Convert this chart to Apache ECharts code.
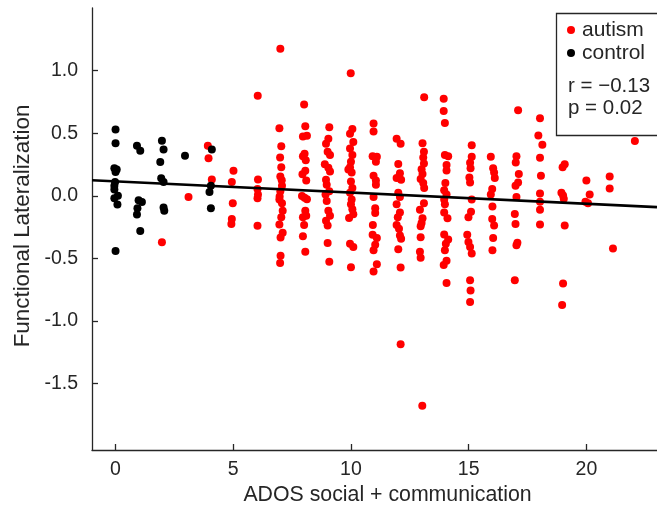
<!DOCTYPE html>
<html>
<head>
<meta charset="utf-8">
<script src="https://cdn.jsdelivr.net/npm/echarts@6/dist/echarts.min.js"></script>
<style>
  html, body { margin: 0; padding: 0; background: #fff; }
  #chart { width: 657px; height: 511px; }
</style>
</head>
<body>
<div id="chart"></div>
<script>
// ADOS social + communication score vs. functional lateralization
const autism = [
  [1.97,-0.37],[3.1,-0.01],
  [3.92,0.40],[3.95,0.30],[4.09,0.13],
  [5.01,0.20],[4.94,0.11],[4.98,-0.06],[4.94,-0.185],[4.92,-0.225],
  [6.04,0.80],[6.05,0.13],[6.03,0.055],[6.05,0.01],[6.03,-0.02],[6.03,-0.24],
  [7.0,1.175],[6.96,0.54],[7.04,0.395],[6.99,0.306],[7.04,0.228],[7.0,0.155],[7.06,0.125],[7.07,0.081],[7.0,0.037],[6.97,-0.005],[6.96,-0.029],[7.07,-0.06],[7.1,-0.12],[7.04,-0.172],[6.96,-0.23],[7.1,-0.295],[7.01,-0.332],[7.01,-0.478],[6.99,-0.536],
  [8.01,0.73],[8.06,0.555],[7.96,0.474],[8.13,0.48],[8.03,0.336],[7.96,0.316],[8.08,0.285],[8.06,0.2],[7.94,0.173],[8.1,0.123],[7.92,-0.002],[8.03,-0.015],[8.13,-0.028],[8.06,-0.12],[8.1,-0.16],[7.96,-0.172],[8.01,-0.233],[7.96,-0.322],[8.06,-0.447],
  [9.08,0.547],[9.04,0.456],[8.94,0.416],[9.01,0.351],[9.11,0.325],[8.89,0.252],[9.04,0.225],[9.11,0.194],[8.94,0.128],[8.97,0.089],[9.08,0.037],[8.92,0.011],[8.97,-0.042],[9.04,-0.12],[9.11,-0.16],[8.94,-0.2],[9.01,-0.238],[9.01,-0.377],[9.08,-0.526],
  [9.99,0.979],[10.06,0.534],[9.96,0.495],[10.1,0.429],[9.96,0.377],[10.06,0.325],[10.0,0.272],[9.96,0.228],[10.03,0.186],[9.89,0.21],[10.0,0.115],[10.06,0.063],[9.96,0.024],[10.03,-0.029],[10.0,-0.068],[10.06,-0.107],[10.1,-0.147],[9.92,-0.178],[9.96,-0.382],[10.1,-0.408],[10.0,-0.57],
  [10.96,0.578],[10.96,0.513],[10.92,0.317],[11.1,0.312],[11.06,0.272],[10.96,0.16],[11.06,0.123],[11.06,0.089],[10.96,-0.01],[11.03,-0.099],[11.03,-0.138],[10.93,-0.233],[10.92,-0.311],[11.1,-0.337],[11.03,-0.39],[10.96,-0.434],[11.1,-0.547],[10.96,-0.604],
  [11.94,0.456],[12.11,0.416],[12.01,0.254],[12.08,0.181],[11.94,0.142],[12.13,0.128],[12.01,0.024],[12.08,-0.01],[11.94,-0.068],[12.08,-0.134],[11.99,-0.172],[11.94,-0.233],[12.04,-0.264],[12.08,-0.317],[12.13,-0.343],[12.01,-0.426],[12.11,-0.573],[12.11,-1.185],
  [13.11,0.788],[13.04,0.42],[13.1,0.351],[13.07,0.306],[13.1,0.259],[13.0,0.212],[13.04,0.175],[12.96,0.134],[13.07,0.102],[13.11,0.063],[13.1,-0.06],[12.93,-0.112],[13.04,-0.18],[13.0,-0.217],[12.96,-0.243],[12.96,-0.33],[12.93,-0.447],[12.96,-0.494],[13.03,-1.677],
  [13.94,0.775],[13.94,0.678],[13.99,0.581],[13.99,0.325],[14.13,0.317],[14.06,0.246],[14.06,0.202],[14.01,0.102],[13.96,0.045],[14.06,0.011],[13.96,-0.029],[13.99,-0.068],[13.96,-0.134],[14.1,-0.18],[13.96,-0.309],[14.13,-0.348],[14.03,-0.382],[13.99,-0.434],[14.06,-0.518],[13.94,-0.552],[14.06,-0.696],
  [15.13,0.403],[15.13,0.312],[15.06,0.265],[15.08,0.22],[15.03,0.147],[15.06,0.107],[15.13,-0.029],[15.1,-0.128],[14.99,-0.172],[14.94,-0.311],[14.99,-0.369],[15.06,-0.408],[15.13,-0.461],[15.06,-0.675],[15.08,-0.756],[15.06,-0.848],
  [15.94,0.312],[16.04,0.22],[16.08,0.186],[16.11,0.142],[16.0,0.055],[15.94,0.011],[16.01,-0.086],[16.0,-0.186],[16.08,-0.238],[16.04,-0.337],[16.01,-0.434],
  [17.1,0.683],[17.03,0.317],[17.0,0.267],[17.13,0.175],[17.1,0.107],[16.99,0.081],[17.03,-0.01],[16.96,-0.146],[16.99,-0.225],[17.07,-0.374],[17.03,-0.395],[16.96,-0.675],
  [18.03,0.62],[17.96,0.482],[18.13,0.408],[18.03,0.304],[18.07,0.16],[18.03,0.019],[18.03,-0.047],[18.03,-0.112],[18.03,-0.23],
  [19.08,0.252],[18.99,0.228],[18.94,0.024],[19.01,0.003],[19.04,-0.023],[19.08,-0.238],[19.01,-0.701],[18.97,-0.871],
  [20.0,0.123],[20.14,0.011],[19.96,-0.047],[20.07,-0.06],
  [20.99,0.155],[20.99,0.058],[21.13,-0.421],
  [22.06,0.437]
];

const control = [
  [0.0,0.53],[0.0,0.42],[-0.05,0.22],[0.05,0.21],[0.0,0.19],[-0.02,0.11],[-0.05,0.08],[-0.05,0.05],[0.1,0.0],[-0.05,-0.02],[0.08,-0.07],[0.0,-0.44],
  [0.91,0.40],[1.05,0.36],[0.98,-0.035],[1.12,-0.05],[0.93,-0.10],[0.91,-0.15],[1.05,-0.28],
  [1.97,0.44],[2.04,0.37],[1.9,0.27],[1.94,0.14],[2.04,0.11],[2.04,-0.094],[2.07,-0.12],
  [2.95,0.32],
  [4.09,0.37],[4.05,0.08],[3.99,0.03],[4.05,-0.10]
];

// least-squares fit line end points
const fitLine = [[-1, 0.124], [23, -0.090]];

const xTicks = [0, 5, 10, 15, 20];
const yTicks = [-1.5, -1, -0.5, 0, 0.5, 1];
const statsText = ['r = \u22120.13', 'p = 0.02'];

const ink = '#262626';
const font = 'Liberation Sans, Arial, sans-serif';

const chart = echarts.init(document.getElementById('chart'), null, { renderer: 'canvas' });
chart.setOption({
  animation: false,
  backgroundColor: '#fff',
  grid: { left: 92, right: 0, top: 8, bottom: 53 },
  xAxis: {
    type: 'value', min: -1, max: 23,
    name: 'ADOS social + communication',
    nameLocation: 'middle', nameGap: 35,
    nameTextStyle: { fontSize: 21.3, color: ink, fontFamily: font, padding: [0, 0, 0, 26] },
    axisLine: { show: true, onZero: false, lineStyle: { color: ink, width: 1.3 } },
    axisTick: { show: true, inside: true, length: 6, customValues: xTicks, lineStyle: { color: ink, width: 1.3 } },
    axisLabel: { customValues: xTicks, fontSize: 19.5, color: ink, fontFamily: font, margin: 10 },
    splitLine: { show: false }
  },
  yAxis: {
    type: 'value', min: -2.03, max: 1.5,
    name: 'Functional Lateralization',
    nameLocation: 'middle', nameGap: 58,
    nameTextStyle: { fontSize: 22.4, color: ink, fontFamily: font, padding: [0, 0, 0, 6] },
    axisLine: { show: true, onZero: false, lineStyle: { color: ink, width: 1.3 } },
    axisTick: { show: true, inside: true, length: 6, customValues: yTicks, lineStyle: { color: ink, width: 1.3 } },
    axisLabel: { customValues: yTicks, fontSize: 19.5, color: ink, fontFamily: font, margin: 14,
      formatter: v => v.toFixed(1) },
    splitLine: { show: false }
  },
  legend: {
    data: ['autism', 'control'],
    orient: 'vertical', left: 567, top: 19, padding: 0,
    icon: 'circle', itemWidth: 8, itemHeight: 8, itemGap: 1,
    textStyle: { fontSize: 21, color: ink, fontFamily: font, lineHeight: 22, padding: [0, 0, 0, 2] }
  },
  graphic: [
    { type: 'rect', left: 554, top: 11, shape: { width: 110, height: 122 },
      style: { fill: 'none', stroke: ink, lineWidth: 1.3 }, z: 10 },
    { type: 'text', left: 568, top: 76, style: { text: statsText[0], fontSize: 20.5, fill: ink, fontFamily: font }, z: 11 },
    { type: 'text', left: 568, top: 98, style: { text: statsText[1], fontSize: 20.5, fill: ink, fontFamily: font }, z: 11 }
  ],
  series: [
    { name: 'autism', type: 'scatter', data: autism, symbolSize: 8,
      itemStyle: { color: '#ff0000', opacity: 1 }, z: 2 },
    { name: 'control', type: 'scatter', data: control, symbolSize: 8,
      itemStyle: { color: '#000000', opacity: 1 }, z: 3 },
    { name: 'fit', type: 'line', data: fitLine, symbol: 'none',
      lineStyle: { color: '#000000', width: 2.6 }, z: 4 }
  ]
});
</script>
</body>
</html>
